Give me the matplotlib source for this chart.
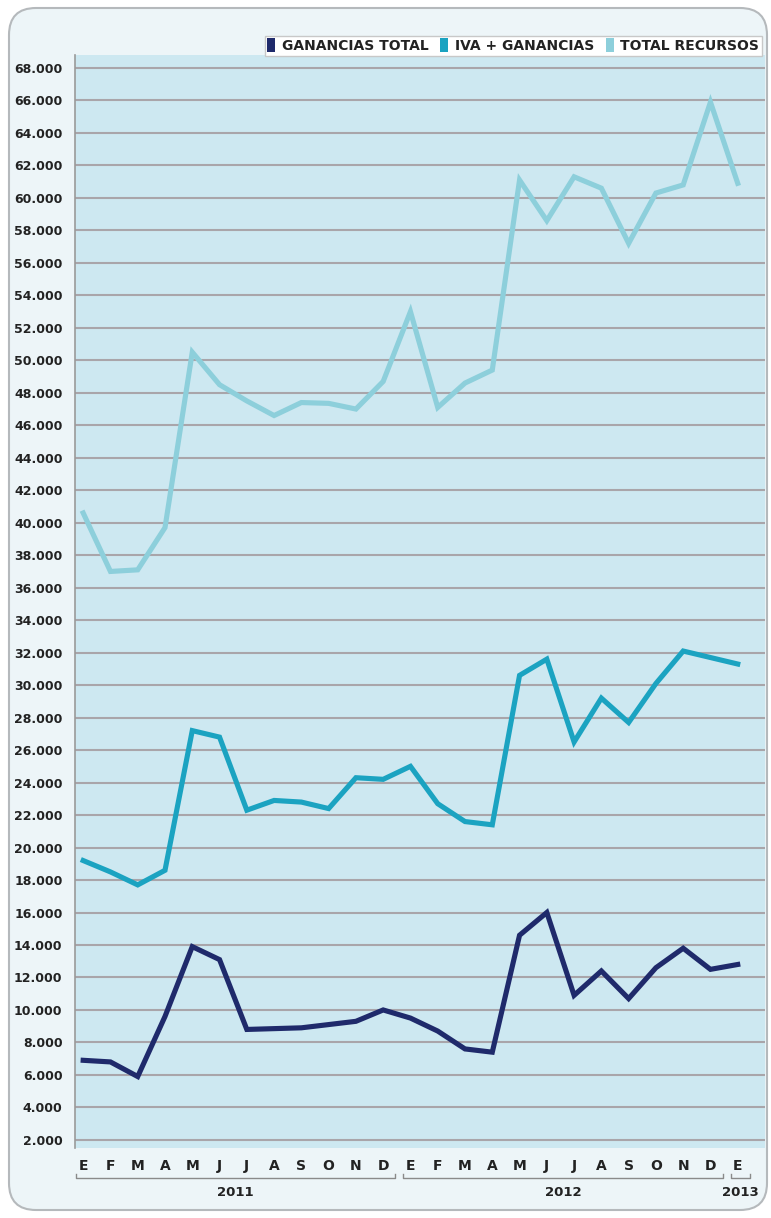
import matplotlib
matplotlib.use("Agg")
import matplotlib.pyplot as plt
from matplotlib.lines import Line2D
from matplotlib.patches import FancyBboxPatch
from matplotlib.ticker import FuncFormatter

# monthly series, thousands
meses = ["E", "F", "M", "A", "M", "J", "J", "A", "S", "O", "N", "D",
         "E", "F", "M", "A", "M", "J", "J", "A", "S", "O", "N", "D", "E"]
anios = ["2011", "2012", "2013"]
anio_desde = [0, 12, 24]
anio_hasta = [11, 23, 24]

ganancias_total = [6.9, 6.8, 5.9, 9.6, 13.9, 13.1, 8.8, 8.85, 8.9, 9.1, 9.3, 10.0,
                   9.5, 8.7, 7.6, 7.4, 14.6, 16.0, 10.9, 12.4, 10.7, 12.6, 13.8, 12.5, 12.8]
iva_ganancias = [19.2, 18.5, 17.7, 18.6, 27.2, 26.8, 22.3, 22.9, 22.8, 22.4, 24.3, 24.2,
                 25.0, 22.7, 21.6, 21.4, 30.6, 31.6, 26.5, 29.2, 27.7, 30.1, 32.1, 31.7, 31.3]
total_recursos = [40.6, 37.0, 37.1, 39.7, 50.5, 48.5, 47.5, 46.6, 47.4, 47.35, 47.0, 48.7,
                  53.0, 47.1, 48.6, 49.4, 61.1, 58.6, 61.3, 60.6, 57.2, 60.3, 60.8, 65.9, 60.9]

series = ["GANANCIAS TOTAL", "IVA + GANANCIAS", "TOTAL RECURSOS"]
colores = ["#1f2a6b", "#1ba3c1", "#8dcfdb"]

W, H = 771, 1218
fig = plt.figure(figsize=(W / 100, H / 100), dpi=100)
fig.patch.set_facecolor("white")

# rounded outer panel, kept behind the axes
panel = FancyBboxPatch((9 / W, 8 / H), 758 / W, 1202 / H,
                       boxstyle="round,pad=0,rounding_size=0.035",
                       transform=fig.transFigure, facecolor="#edf5f8",
                       edgecolor="#b5b9bc", linewidth=1.5, mutation_aspect=W / H,
                       zorder=-10)
fig.patches.append(panel)

ax = fig.add_axes([75 / W, 1 - 1148 / H, 690 / W, 1093 / H])
ax.set_facecolor("#cde8f1")

x = list(range(len(meses)))
for datos, color in zip([total_recursos, iva_ganancias, ganancias_total], colores[::-1]):
    ax.plot(x, datos, color=color, lw=3.7, solid_joinstyle="miter", zorder=3)

ax.set_xlim(-0.3, 25.0)
ax.set_ylim(1.5, 68.8)
ax.set_yticks(range(2, 70, 2))
ax.yaxis.set_major_formatter(FuncFormatter(lambda v, p: f"{int(v)}.000"))
ax.grid(axis="y", color="#a9a5aa", lw=1.5, zorder=1)
ax.set_axisbelow(True)
for lado in ["top", "right", "bottom"]:
    ax.spines[lado].set_visible(False)
ax.spines["left"].set_color("#9a9a9a")
ax.spines["left"].set_linewidth(1.2)
ax.tick_params(axis="y", length=0, pad=9, labelsize=9, labelcolor="#222222")
ax.tick_params(axis="x", length=0, pad=8, labelsize=10, labelcolor="#222222")
ax.set_xticks(x)
ax.set_xticklabels(meses)
for t in ax.get_yticklabels() + ax.get_xticklabels():
    t.set_fontweight("bold")

# year brackets under the month labels
tr = ax.get_xaxis_transform()
for nombre, a, b in zip(anios, anio_desde, anio_hasta):
    x0, x1 = a - 0.26, b + 0.45
    ax.plot([x0, x0, x1, x1], [-0.0235, -0.0275, -0.0275, -0.0235], transform=tr,
            color="#8a8a8a", lw=1.0, clip_on=False)
    ax.text((x0 + x1) / 2, -0.041, nombre, transform=tr, ha="center", va="center",
            fontsize=9.5, fontweight="bold", color="#222222")

# narrow upright swatches for the legend
swatch = [(-0.3, -0.5), (0.3, -0.5), (0.3, 0.5), (-0.3, 0.5), (-0.3, -0.5)]
handles = [Line2D([], [], ls="none", marker=swatch, markersize=10, color=c, markeredgewidth=0)
           for c in colores]
leg = fig.legend(handles, series, loc="upper right", ncol=3,
                 bbox_to_anchor=(769 / W, 1 - 29 / H), frameon=True, fancybox=False,
                 edgecolor="#c8c8c8", facecolor="white", framealpha=1,
                 handlelength=0.5, handletextpad=0.5, columnspacing=0.9,
                 borderpad=0.2, prop={"size": 10, "weight": "bold"})
leg.get_frame().set_linewidth(1.0)
for t in leg.get_texts():
    t.set_color("#222222")

fig.savefig("out.png", dpi=100)
